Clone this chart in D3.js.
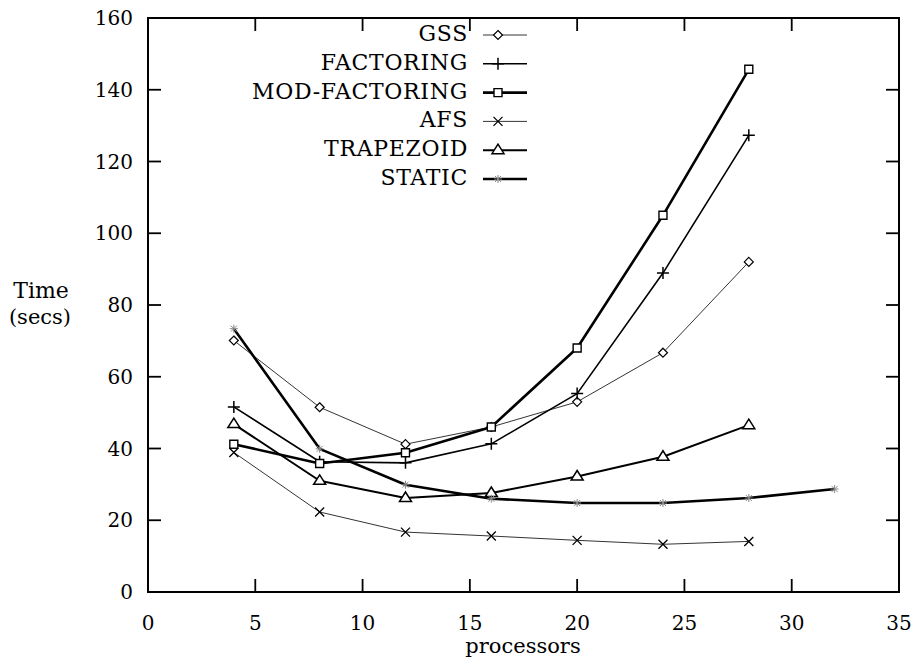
<!DOCTYPE html>
<html>
<head>
<meta charset="utf-8">
<script src="https://cdn.jsdelivr.net/npm/d3@7"></script>
<style>
  body { margin: 0; background: #fff; }
</style>
</head>
<body>
<svg id="chart"></svg>
<script>
const procs = [4, 8, 12, 16, 20, 24, 28]
const staticProcs = [4, 8, 12, 16, 20, 24, 28, 32]
const gss = [70.1, 51.5, 41.2, 46, 53, 66.7, 92]
const factoring = [51.6, 36.3, 36, 41.3, 55.3, 88.9, 127.3]
const modFactoring = [41.2, 35.8, 38.8, 46, 68, 105, 145.7]
const afs = [38.9, 22.3, 16.7, 15.6, 14.4, 13.3, 14.1]
const trapezoid = [46.8, 31, 26.2, 27.6, 32.2, 37.7, 46.5]
const staticSched = [73.4, 39.9, 29.9, 26, 24.8, 24.8, 26.2, 28.7]
const xTicks = [0, 5, 10, 15, 20, 25, 30, 35]
const yTicks = [0, 20, 40, 60, 80, 100, 120, 140, 160]

const series = [
  {name: 'GSS', xs: procs, ys: gss, width: 0.8, mark: 'diamond'},
  {name: 'FACTORING', xs: procs, ys: factoring, width: 1.6, mark: 'plus'},
  {name: 'MOD-FACTORING', xs: procs, ys: modFactoring, width: 2.6, mark: 'square'},
  {name: 'AFS', xs: procs, ys: afs, width: 0.8, mark: 'cross'},
  {name: 'TRAPEZOID', xs: procs, ys: trapezoid, width: 2, mark: 'triangle'},
  {name: 'STATIC', xs: staticProcs, ys: staticSched, width: 2.6, mark: 'star'}
]

const width = 917, height = 666
const m = {left: 148, right: 899, top: 18, bottom: 592}
const tick = 13
const font = "'DejaVu Serif', serif"

const svg = d3.select('#chart').attr('width', width).attr('height', height)
  .attr('font-family', font)

const x = d3.scaleLinear().domain([0, 35]).range([m.left, m.right])
const y = d3.scaleLinear().domain([0, 160]).range([m.bottom, m.top])

// frame
svg.append('rect')
  .attr('x', m.left).attr('y', m.top)
  .attr('width', m.right - m.left).attr('height', m.bottom - m.top)
  .attr('fill', 'none').attr('stroke', '#000').attr('stroke-width', 2)

// inward ticks on all four sides
const ticks = svg.append('g').attr('stroke', '#000').attr('stroke-width', 1.8)
xTicks.slice(1, -1).forEach(t => {
  ticks.append('line').attr('x1', x(t)).attr('x2', x(t)).attr('y1', m.bottom).attr('y2', m.bottom - tick)
  ticks.append('line').attr('x1', x(t)).attr('x2', x(t)).attr('y1', m.top).attr('y2', m.top + tick)
})
yTicks.slice(1, -1).forEach(t => {
  ticks.append('line').attr('y1', y(t)).attr('y2', y(t)).attr('x1', m.left).attr('x2', m.left + tick)
  ticks.append('line').attr('y1', y(t)).attr('y2', y(t)).attr('x1', m.right).attr('x2', m.right - tick)
})

svg.append('g').selectAll('text').data(xTicks).join('text')
  .attr('x', d => x(d)).attr('y', m.bottom + 38)
  .attr('text-anchor', 'middle').attr('font-size', 20)
  .text(d => d)

svg.append('g').selectAll('text').data(yTicks).join('text')
  .attr('x', m.left - 15).attr('y', d => y(d) + 7)
  .attr('text-anchor', 'end').attr('font-size', 20)
  .text(d => d)

svg.append('text').attr('x', 523).attr('y', 653).attr('text-anchor', 'middle')
  .attr('font-size', 21).text('processors')
svg.append('text').attr('x', 41).attr('y', 298).attr('text-anchor', 'middle')
  .attr('font-size', 22).text('Time')
svg.append('text').attr('x', 40).attr('y', 324).attr('text-anchor', 'middle')
  .attr('font-size', 21).text('(secs)')

// marker shapes
function drawMark(g, type, cx, cy) {
  const p = g.append('path').attr('transform', `translate(${cx},${cy})`)
    .attr('fill', 'none').attr('stroke', '#000').attr('stroke-width', 1.2)
  if (type === 'diamond') p.attr('d', 'M0,-4.5L4.5,0L0,4.5L-4.5,0Z').attr('fill', '#fff')
  if (type === 'plus') p.attr('d', 'M-6,0H6M0,-6V6').attr('stroke-width', 1.5)
  if (type === 'square') p.attr('d', 'M-4,-4H4V4H-4Z').attr('fill', '#fff').attr('stroke-width', 1.4)
  if (type === 'cross') p.attr('d', 'M-4.5,-4.5L4.5,4.5M-4.5,4.5L4.5,-4.5').attr('stroke-width', 1.3)
  if (type === 'triangle') p.attr('d', 'M0,-6L6,3.5H-6Z').attr('fill', '#fff').attr('stroke-width', 1.5)
  if (type === 'star') p.attr('d', 'M-4,0H4M0,-4V4M-3,-3L3,3M-3,3L3,-3').attr('stroke', '#888').attr('stroke-width', 1)
}

const line = d3.line().x(d => x(d[0])).y(d => y(d[1]))

series.forEach(s => {
  const pts = s.xs.map((v, i) => [v, s.ys[i]])
  svg.append('path').datum(pts)
    .attr('d', line)
    .attr('fill', 'none').attr('stroke', '#000')
    .attr('stroke-width', s.width).attr('stroke-linejoin', 'round')
  const g = svg.append('g')
  pts.forEach(p => drawMark(g, s.mark, x(p[0]), y(p[1])))
})

// legend
const legend = svg.append('g')
series.forEach((s, i) => {
  const ly = 35 + i * 28.8
  legend.append('text').attr('x', 468).attr('y', ly + 6)
    .attr('text-anchor', 'end').attr('font-size', 22).attr('letter-spacing', 0.7)
    .text(s.name)
  legend.append('line').attr('x1', 483).attr('x2', 527).attr('y1', ly).attr('y2', ly)
    .attr('stroke', '#000').attr('stroke-width', s.width)
  drawMark(legend, s.mark, 498, ly)
})
</script>
</body>
</html>
